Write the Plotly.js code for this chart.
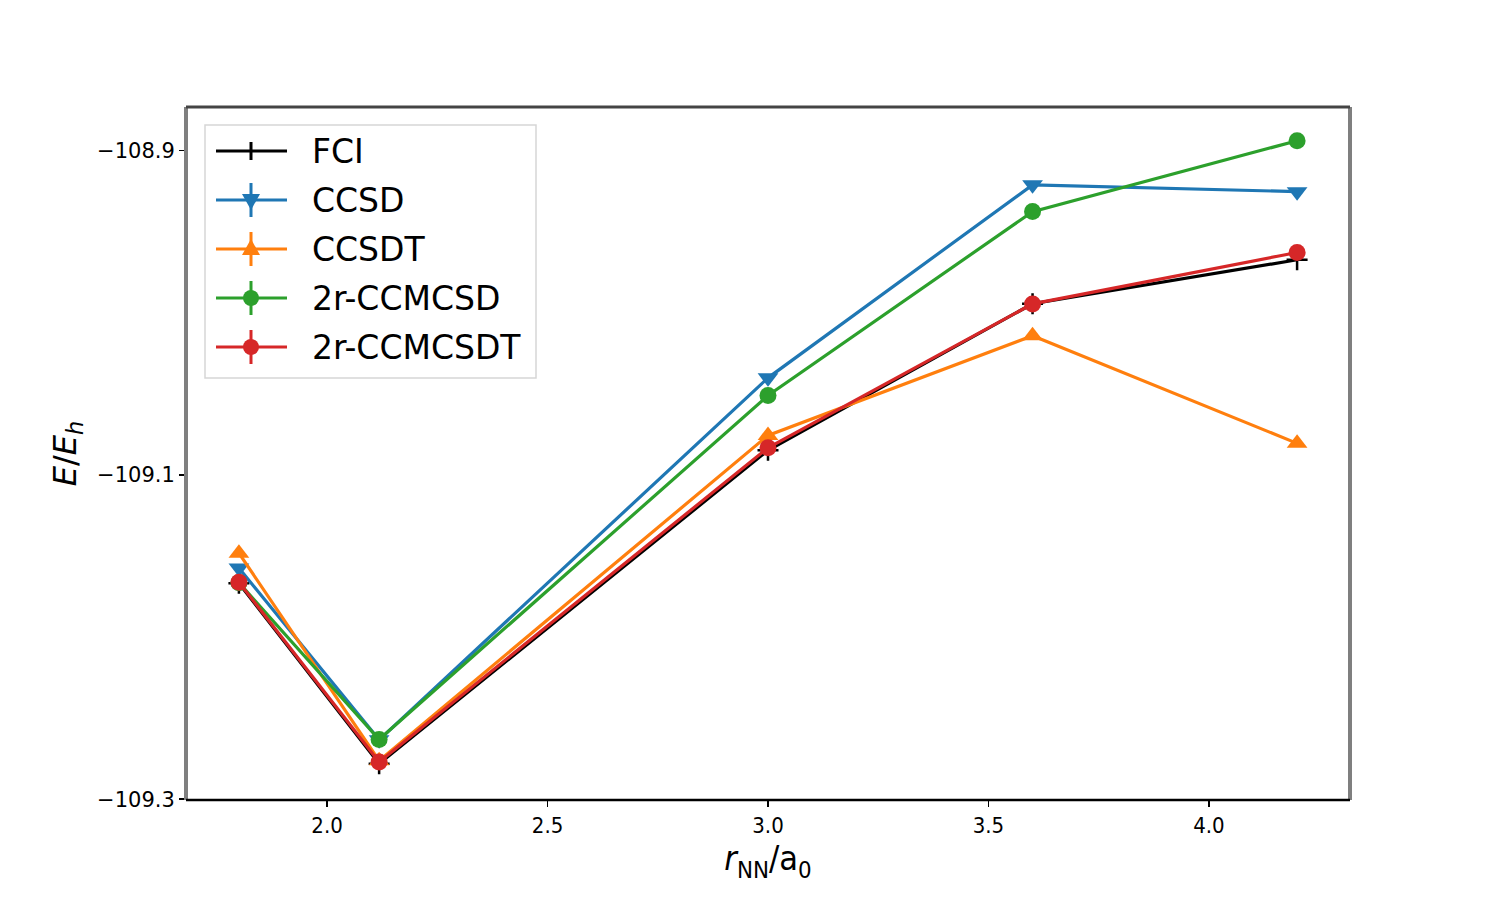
<!DOCTYPE html>
<html>
<head>
<meta charset="utf-8">
<script src="https://cdn.plot.ly/plotly-3.0.1.min.js"></script>
<style>
  html, body { margin: 0; padding: 0; background: #ffffff; }
  #chart { width: 1500px; height: 900px; }
</style>
</head>
<body>
<div id="chart"></div>
<script>
// N2 dissociation: total energies (hartree) vs. bond length (bohr)
const bondLength = [1.8, 2.118, 3.0, 3.6, 4.2];

const fci        = [-109.1668, -109.2781, -109.0849, -108.9945, -108.9674];
const ccsd       = [-109.1575, -109.2634, -109.0402, -108.9212, -108.9254];
const ccsdt      = [-109.1483, -109.2763, -109.0757, -109.0142, -109.0806];
const ccmcsd2r   = [-109.1665, -109.2632, -109.0511, -108.9377, -108.8940];
const ccmcsdt2r  = [-109.1663, -109.2771, -109.0833, -108.9946, -108.9629];

const seriesNames = ['FCI', 'CCSD', 'CCSDT', '2r-CCMCSD', '2r-CCMCSDT'];
const xTickVals = [2.0, 2.5, 3.0, 3.5, 4.0];
const xTickText = ['2.0', '2.5', '3.0', '3.5', '4.0'];
const yTickVals = [-109.3, -109.1, -108.9];
const yTickText = ['\u2212109.3', '\u2212109.1', '\u2212108.9'];

const colors = ['#000000', '#1f77b4', '#ff7f0e', '#2ca02c', '#d62728'];
const symbols = ['cross-thin', 'triangle-down', 'triangle-up', 'circle', 'circle'];
const seriesValues = [fci, ccsd, ccsdt, ccmcsd2r, ccmcsdt2r];

const traces = seriesValues.map((vals, i) => ({
  type: 'scatter',
  mode: 'lines+markers',
  name: seriesNames[i],
  x: bondLength,
  y: vals,
  showlegend: false,
  line: { color: colors[i], width: 3.2 },
  marker: i === 0
    ? { symbol: 'cross-thin', size: 15, color: colors[i], line: { color: colors[i], width: 2.5 } }
    : { symbol: symbols[i], size: i >= 3 ? 17 : 18, color: colors[i], line: { width: 0 } }
}));

// plot-area geometry in page pixels, used to place the hand-built legend
const L = 186, R = 1350, T = 107, B = 800;
const W = R - L, H = B - T;
const px = x => (x - L) / W;
const py = y => (B - y) / H;

const shapes = [];
const annotations = [];

// frame: grey sides, dark top, black bottom
shapes.push({ type: 'line', xref: 'paper', yref: 'paper', x0: 0, x1: 0, y0: 0, y1: 1, line: { color: '#7f7f7f', width: 4 } });
shapes.push({ type: 'line', xref: 'paper', yref: 'paper', x0: 1, x1: 1, y0: 0, y1: 1, line: { color: '#7f7f7f', width: 4 } });
shapes.push({ type: 'line', xref: 'paper', yref: 'paper', x0: 0, x1: 1, y0: 1, y1: 1, line: { color: '#444444', width: 3 } });
shapes.push({ type: 'line', xref: 'paper', yref: 'paper', x0: 0, x1: 1, y0: 0, y1: 0, line: { color: '#000000', width: 2.5 } });

// legend box
shapes.push({ type: 'rect', xref: 'paper', yref: 'paper', x0: px(205), x1: px(536), y0: py(378), y1: py(125),
  fillcolor: 'rgba(255,255,255,0.85)', line: { color: '#d6d6d6', width: 1.5 } });

seriesNames.forEach((name, i) => {
  const rowY = 151 + 49 * i;
  const c = colors[i];
  const ax = px(251), ay = py(rowY);
  shapes.push({ type: 'line', xref: 'paper', yref: 'paper', x0: px(216), x1: px(287), y0: ay, y1: ay, line: { color: c, width: 3.2 } });
  if (i > 0) {
    shapes.push({ type: 'line', xref: 'paper', yref: 'paper', xsizemode: 'pixel', ysizemode: 'pixel',
      xanchor: ax, yanchor: ay, x0: 0, x1: 0, y0: -17, y1: 17, line: { color: c, width: 3 } });
  }
  if (symbols[i] === 'cross-thin') {
    shapes.push({ type: 'line', xref: 'paper', yref: 'paper', xsizemode: 'pixel', ysizemode: 'pixel',
      xanchor: ax, yanchor: ay, x0: 0, x1: 0, y0: -9, y1: 9, line: { color: c, width: 3 } });
  } else if (symbols[i] === 'circle') {
    shapes.push({ type: 'circle', xref: 'paper', yref: 'paper', xsizemode: 'pixel', ysizemode: 'pixel',
      xanchor: ax, yanchor: ay, x0: -8, x1: 8, y0: -8, y1: 8, fillcolor: c, line: { width: 0 } });
  } else {
    const path = symbols[i] === 'triangle-up'
      ? 'M-9,-6 L9,-6 L0,10 Z'
      : 'M-9,6 L9,6 L0,-10 Z';
    shapes.push({ type: 'path', xref: 'paper', yref: 'paper', xsizemode: 'pixel', ysizemode: 'pixel',
      xanchor: ax, yanchor: ay, path: path, fillcolor: c, line: { width: 0 } });
  }
  annotations.push({ xref: 'paper', yref: 'paper', x: px(310), y: ay, xanchor: 'left', yanchor: 'middle',
    text: name, showarrow: false, font: { family: 'DejaVu Sans', size: 33, color: '#000000' } });
});

const layout = {
  width: 1500,
  height: 900,
  paper_bgcolor: '#ffffff',
  plot_bgcolor: '#ffffff',
  margin: { l: L, r: 1500 - R, t: T, b: 900 - B, pad: 0 },
  showlegend: false,
  xaxis: {
    range: [1.68, 4.32],
    tickmode: 'array', tickvals: xTickVals, ticktext: xTickText,
    ticks: 'outside', ticklen: 6, tickwidth: 1.5, tickcolor: '#000000',
    showgrid: false, zeroline: false, showline: false,
    tickfont: { family: 'DejaVu Sans Condensed', size: 22, color: '#000000' },
    title: { text: '<i>r</i><sub>NN</sub>/a<sub>0</sub>', standoff: 7,
      font: { family: 'DejaVu Sans Condensed', size: 34, color: '#000000' } }
  },
  yaxis: {
    range: [-109.3005, -108.8732],
    tickmode: 'array', tickvals: yTickVals, ticktext: yTickText,
    ticks: 'outside', ticklen: 6, tickwidth: 1.5, tickcolor: '#000000',
    showgrid: false, zeroline: false, showline: false,
    tickfont: { family: 'DejaVu Sans', size: 21, color: '#000000' },
    title: { text: '<i>E</i>/<i>E</i><sub><i>h</i></sub>', standoff: 10,
      font: { family: 'DejaVu Sans', size: 32, color: '#000000' } }
  },
  shapes: shapes,
  annotations: annotations
};

Plotly.newPlot('chart', traces, layout, { displayModeBar: false, staticPlot: true });
</script>
</body>
</html>
